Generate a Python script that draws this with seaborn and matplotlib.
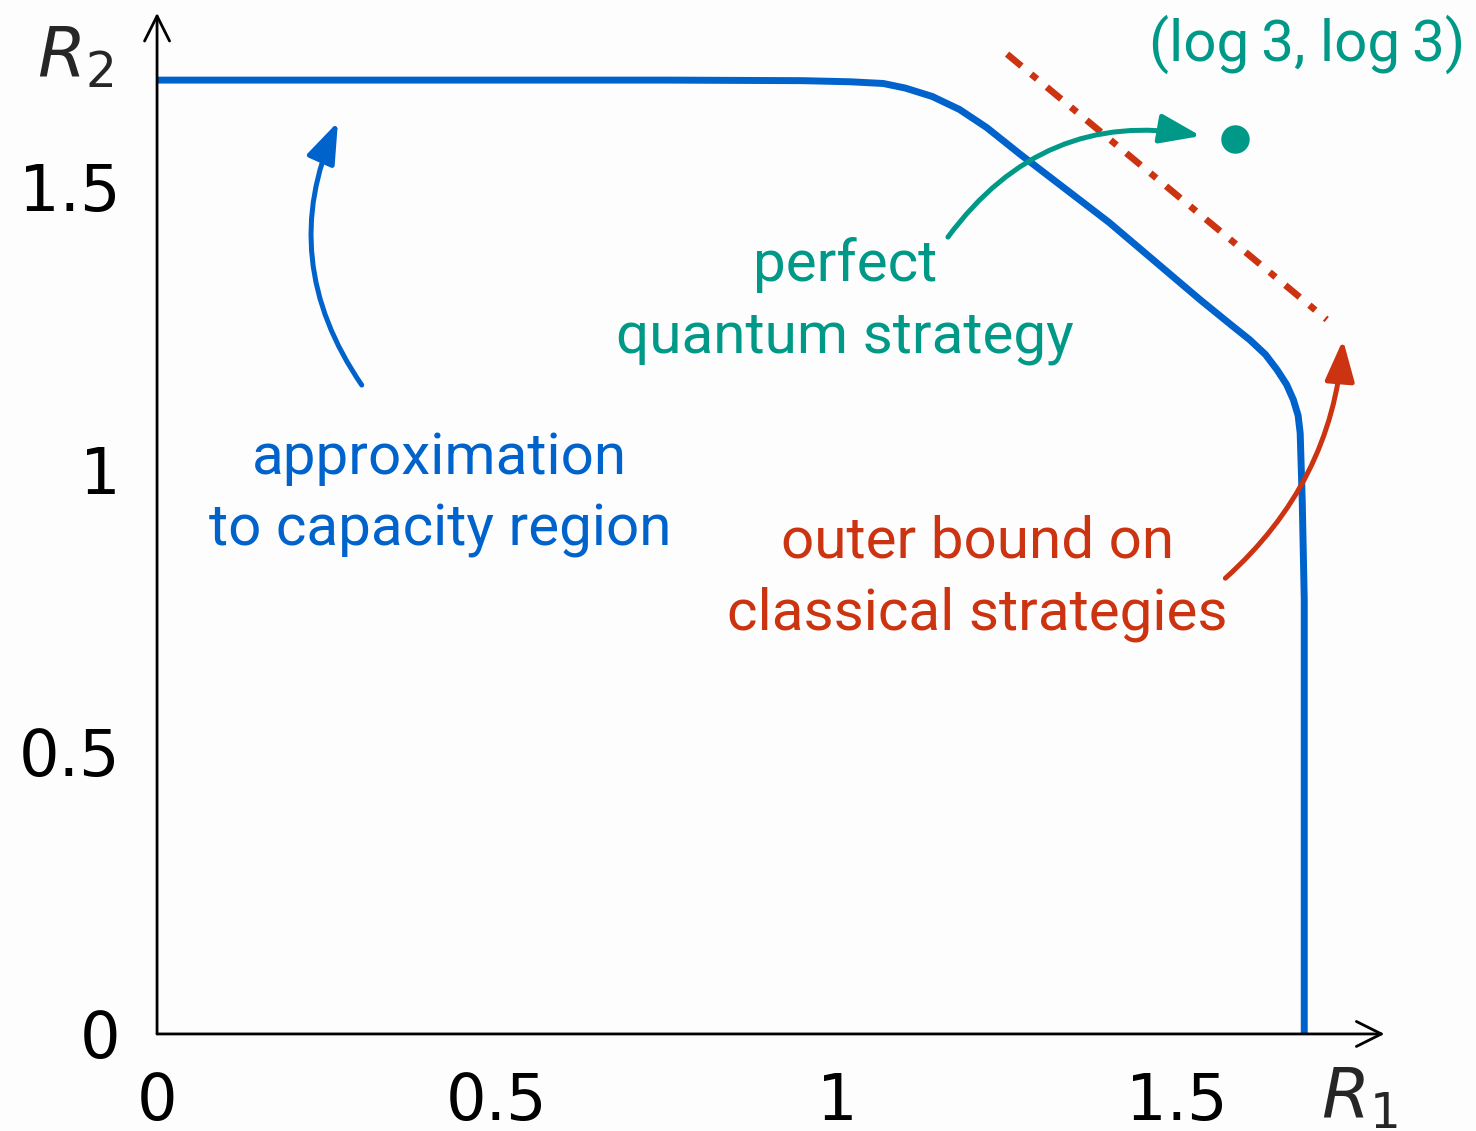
import numpy as np
import pandas as pd
import matplotlib
matplotlib.use("Agg")
import matplotlib.pyplot as plt
import seaborn as sns

# approximated capacity region boundary (R1, R2)
region_r1 = [0.0, 0.75, 0.95, 1.02, 1.068, 1.10, 1.14, 1.18, 1.22, 1.27, 1.40, 1.534,
             1.58, 1.607, 1.63, 1.647, 1.661, 1.671, 1.678, 1.681, 1.684, 1.687, 1.687]
region_r2 = [1.689, 1.689, 1.688, 1.686, 1.683, 1.675, 1.660, 1.637, 1.605, 1.557, 1.437, 1.300,
             1.255, 1.229, 1.203, 1.176, 1.150, 1.123, 1.095, 1.064, 0.946, 0.769, 0.0]

# outer bound on classical strategies
bound_r1 = [1.25, 1.72]
bound_r2 = [1.735, 1.265]

# perfect quantum strategy (log 3, log 3)
quantum_r1 = [1.585]
quantum_r2 = [1.585]

tick_values = [0, 0.5, 1, 1.5]
tick_labels = ["0", "0.5", "1", "1.5"]

BLUE = "#0063CC"
TEAL = "#009988"
RED = "#CC3311"
BG = "#fdfdfd"

sns.set_theme(style="white")
plt.rcParams["font.family"] = ["DejaVu Sans"]
plt.rcParams["mathtext.fontset"] = "dejavusans"

fig = plt.figure(figsize=(14.76, 11.31), dpi=100, facecolor=BG)
ax = fig.add_axes([0.1064, 0.0858, 0.8293, 0.8988])
ax.set_facecolor(BG)

region = pd.DataFrame({"R1": region_r1, "R2": region_r2})
sns.lineplot(data=region, x="R1", y="R2", sort=False, estimator=None,
             color=BLUE, linewidth=5, ax=ax, solid_joinstyle="round")

bound = pd.DataFrame({"R1": bound_r1, "R2": bound_r2})
sns.lineplot(data=bound, x="R1", y="R2", sort=False, estimator=None,
             color=RED, linewidth=4.8, ax=ax)
ax.lines[-1].set_dashes([2.8, 1.9, 1.15, 1.9])

sns.scatterplot(x=quantum_r1, y=quantum_r2, color=TEAL, s=420, linewidth=0, ax=ax, zorder=5)

ax.set_xlim(0, 1.8)
ax.set_ylim(0, 1.8)
ax.set_xticks(tick_values, tick_labels)
ax.set_yticks(tick_values, tick_labels)
ax.tick_params(axis="both", direction="inout", length=19, width=1.2, color="#888888",
               labelsize=46, labelcolor="black", pad=17)
ax.set_xlabel("")
ax.set_ylabel("")
for s in ax.spines.values():
    s.set_visible(False)

# axes with arrow heads
axis_arrow = dict(arrowstyle="->,head_length=0.9,head_width=0.45", color="black",
                  lw=2, shrinkA=0, shrinkB=0, mutation_scale=20)
ax.annotate("", xy=(1.805, 0), xytext=(0, 0), arrowprops=axis_arrow, annotation_clip=False)
ax.annotate("", xy=(0, 1.808), xytext=(0, 0), arrowprops=axis_arrow, annotation_clip=False)

ax.text(-0.121, 1.73, "$R_2$", fontsize=50, ha="center", va="center")
ax.text(1.768, -0.113, "$R_1$", fontsize=50, ha="center", va="center")

txt = dict(family=["Roboto", "DejaVu Sans"], fontsize=42, ha="center", va="center",
           multialignment="center", linespacing=1.38)
ax.text(0.416, 0.955, "approximation\nto capacity region", color=BLUE, **txt)
ax.text(1.012, 1.298, "perfect\nquantum strategy", color=TEAL, **txt)
ax.text(1.206, 0.807, "outer bound on\nclassical strategies", color=RED, **txt)
ax.text(1.691, 1.752, "(log\u20093, log\u20093)", color=TEAL, family=["Roboto", "DejaVu Sans"],
        fontsize=42, ha="center", va="center")


def curved_arrow(start, end, color, rad):
    ax.annotate("", xy=end, xytext=start, annotation_clip=False,
                arrowprops=dict(arrowstyle="-|>,head_length=1.25,head_width=0.45",
                                color=color, lw=3.6, shrinkA=0, shrinkB=0,
                                mutation_scale=20, connectionstyle=f"arc3,rad={rad}"))


curved_arrow((0.301, 1.149), (0.266, 1.615), BLUE, -0.28)
curved_arrow((1.163, 1.411), (1.535, 1.590), TEAL, -0.31)
curved_arrow((1.571, 0.807), (1.744, 1.229), RED, 0.2)

fig.savefig("out.png", dpi=100, facecolor=BG)
